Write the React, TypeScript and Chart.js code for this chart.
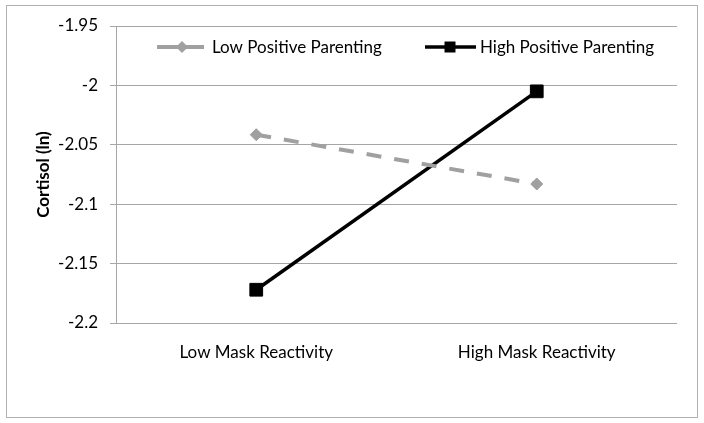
import React, { useEffect, useRef } from "react";
import { Chart, registerables } from "chart.js";

Chart.register(...registerables);

const categories = ["Low Mask Reactivity", "High Mask Reactivity"];
const lowPositiveParenting = [-2.0415, -2.083];
const highPositiveParenting = [-2.172, -2.005];
const seriesLabels = ["Low Positive Parenting", "High Positive Parenting"];
const yTitle = "Cortisol (ln)";
const yMin = -2.2;
const yMax = -1.95;
const yStep = 0.05;

const FONT = "Lato, 'Open Sans', sans-serif";
const GRAY = "#a0a0a0";
const GRID = "#a6a6a6";

const borderPlugin = {
  id: "outerBorder",
  beforeDraw(chart: any) {
    const ctx = chart.ctx;
    ctx.save();
    ctx.fillStyle = "#ffffff";
    ctx.fillRect(0, 0, chart.width, chart.height);
    ctx.strokeStyle = "#b0b0b0";
    ctx.lineWidth = 1;
    ctx.strokeRect(6.5, 5.5, 691, 412);
    ctx.restore();
  },
};

const legendPlugin = {
  id: "customLegend",
  afterDraw(chart: any) {
    const ctx = chart.ctx;
    const y = 47;
    const items = [
      { x0: 157, x1: 204, mx: 182, text: 212, ds: 0 },
      { x0: 425, x1: 476, mx: 450, text: 480, ds: 1 },
    ];
    ctx.save();
    items.forEach((it) => {
      const ds = chart.data.datasets[it.ds];
      ctx.strokeStyle = ds.borderColor;
      ctx.fillStyle = ds.borderColor;
      ctx.lineWidth = ds.borderWidth;
      ctx.setLineDash([]);
      ctx.beginPath();
      ctx.moveTo(it.x0, y);
      ctx.lineTo(it.x1, y);
      ctx.stroke();
      ctx.beginPath();
      if (ds.pointStyle === "rect") {
        ctx.rect(it.mx - 5.5, y - 5.5, 11, 11);
      } else {
        ctx.moveTo(it.mx - 6, y);
        ctx.lineTo(it.mx, y - 6);
        ctx.lineTo(it.mx + 6, y);
        ctx.lineTo(it.mx, y + 6);
        ctx.closePath();
      }
      ctx.fill();
      ctx.fillStyle = "#000000";
      ctx.font = `17px ${FONT}`;
      ctx.textBaseline = "middle";
      ctx.textAlign = "left";
      ctx.fillText(ds.label, it.text, y + 1);
    });
    ctx.restore();
  },
};

export default function App() {
  const ref = useRef<HTMLCanvasElement | null>(null);

  useEffect(() => {
    document.body.style.margin = "0";
    const canvas = ref.current!;
    const chart = new Chart(canvas, {
      type: "line",
      data: {
        labels: categories,
        datasets: [
          {
            label: seriesLabels[0],
            data: lowPositiveParenting,
            borderColor: GRAY,
            backgroundColor: GRAY,
            borderWidth: 4,
            borderDash: [15, 13],
            borderCapStyle: "butt",
            pointStyle: "rectRot",
            pointRadius: 6,
            pointBorderWidth: 1,
            pointBackgroundColor: GRAY,
            pointBorderColor: GRAY,
          },
          {
            label: seriesLabels[1],
            data: highPositiveParenting,
            borderColor: "#000000",
            backgroundColor: "#000000",
            borderWidth: 3.5,
            pointStyle: "rect",
            pointRadius: 9,
            pointBorderWidth: 1,
            pointBackgroundColor: "#000000",
            pointBorderColor: "#000000",
          },
        ],
      },
      options: {
        animation: false,
        responsive: false,
        maintainAspectRatio: false,
        layout: { padding: { left: 0, top: 26, right: 27, bottom: 0 } },
        plugins: {
          legend: { display: false },
          tooltip: { enabled: false },
        },
        scales: {
          x: {
            offset: true,
            grid: { display: false },
            border: { display: false },
            ticks: {
              color: "#000000",
              font: { family: FONT, size: 17 },
              padding: 11,
            },
            afterFit(scale: any) {
              scale.height = 100;
            },
          },
          y: {
            min: yMin,
            max: yMax,
            grid: { color: GRID, lineWidth: 1, tickLength: 6 },
            border: { display: true, color: GRID },
            ticks: {
              stepSize: yStep,
              color: "#000000",
              font: { family: FONT, size: 17 },
              padding: 12,
              callback: (v: any) => String(Number(Number(v).toFixed(2))),
            },
            title: {
              display: true,
              text: yTitle,
              color: "#000000",
              font: { family: FONT, size: 17, weight: "bold" },
              padding: { top: 33, bottom: 0 },
            },
            afterFit(scale: any) {
              scale.width = 116;
            },
          },
        },
      },
      plugins: [borderPlugin, legendPlugin],
    });
    return () => chart.destroy();
  }, []);

  return <canvas ref={ref} width={704} height={423} style={{ display: "block" }} />;
}
